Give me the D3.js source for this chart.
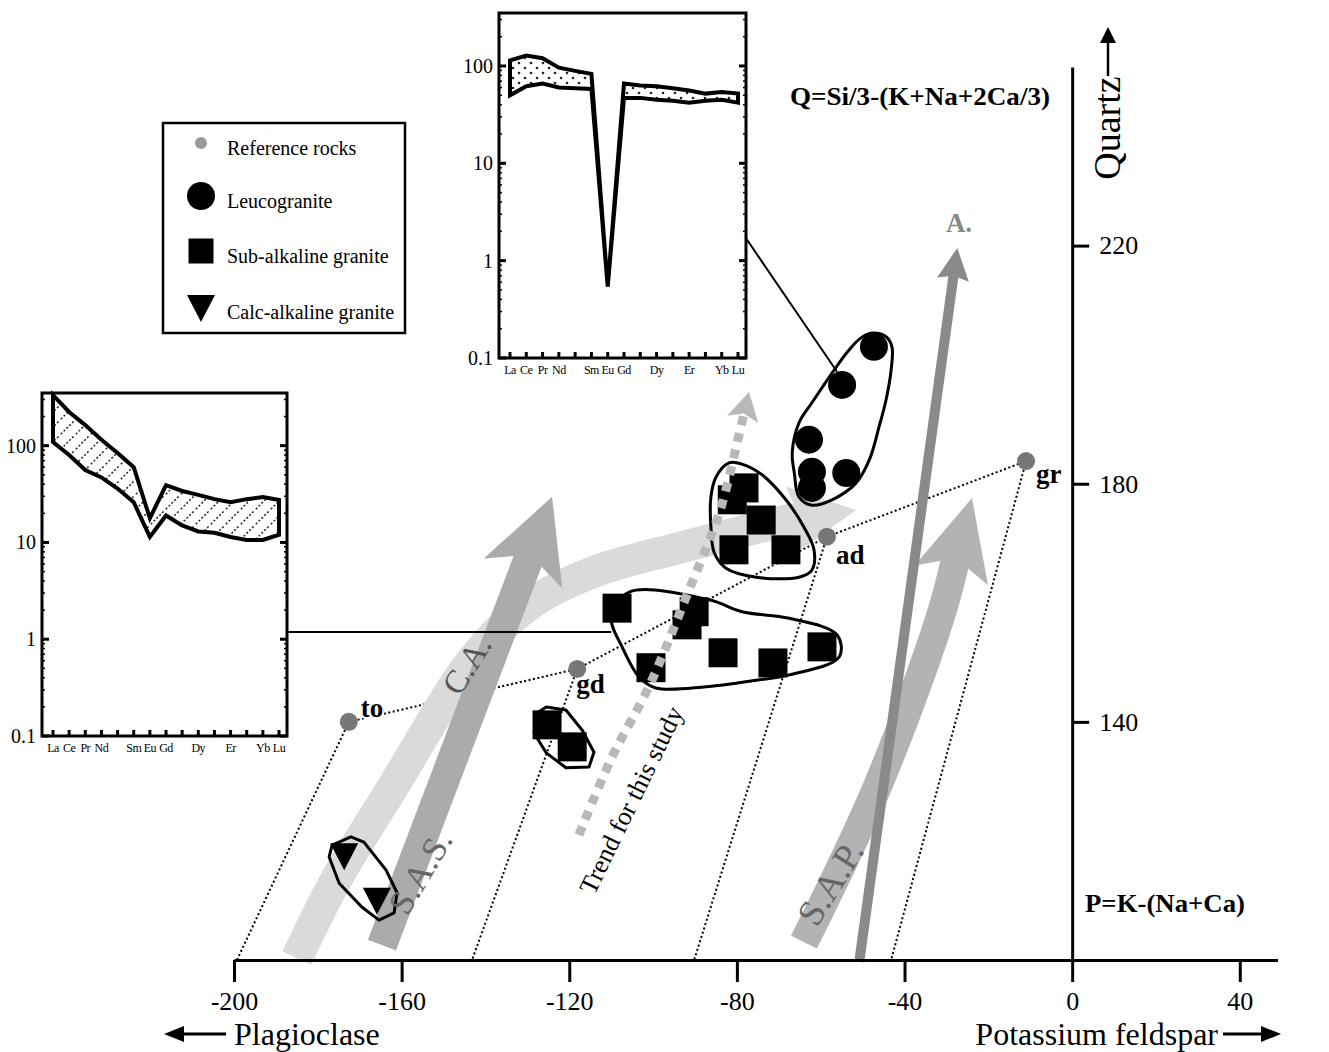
<!DOCTYPE html>
<html>
<head>
<meta charset="utf-8">
<script src="https://cdn.jsdelivr.net/npm/d3@7"></script>
<style>
	body { margin: 0; background: #fff; }
	svg { display: block; font-family: "Liberation Serif", "DejaVu Serif", serif; }
</style>
</head>
<body>
<script>
// Values; x = P = K-(Na+Ca), y = Q = Si/3-(K+Na+2Ca/3)
var xTicks = [-200, -160, -120, -80, -40, 0, 40];
var yTicks = [140, 180, 220];

var refNames = ["to", "gd", "ad", "gr"];
var refX = [-172.6, -118.1, -58.5, -11.0];
var refY = [140.0, 148.9, 171.1, 183.8];
// where the dotted tie lines meet the P axis
var refBaseX = [-199.3, -143.2, -90.2, -43.2];

var leucoX = [-47.3, -54.9, -62.8, -62.1, -53.9, -62.1];
var leucoY = [203.0, 196.6, 187.4, 182.0, 181.8, 179.3];

var subAlkX = [-78.3, -81.1, -74.2, -80.7, -68.3, -108.6, -90.2, -91.9, -83.3, -71.4, -59.7, -100.5, -125.3, -119.3];
var subAlkY = [179.3, 177.3, 173.9, 168.9, 168.9, 159.1, 158.5, 156.3, 151.6, 149.9, 152.6, 149.1, 139.5, 135.8];

var calcAlkX = [-173.7, -165.9];
var calcAlkY = [117.6, 110.1];

// fields drawn round each group
var leucoField = [[-47.7, 205.3], [-44.4, 204.7], [-43.0, 203.0], [-43.2, 199.1], [-44.4, 194.1], [-46.1, 189.5], [-48.4, 184.0], [-51.6, 180.1], [-57.3, 177.3], [-62.1, 176.4], [-65.2, 177.8], [-66.3, 181.8], [-66.8, 185.2], [-65.2, 190.2], [-62.1, 193.6], [-56.3, 199.6], [-53.2, 202.5], [-50.4, 204.5]];
var subAlkField1 = [[-81.9, 183.5], [-78.8, 183.3], [-74.0, 181.5], [-68.3, 177.3], [-64.0, 172.7], [-61.6, 168.9], [-62.1, 165.5], [-65.2, 164.3], [-75.4, 164.3], [-82.6, 165.8], [-85.4, 168.4], [-86.2, 172.7], [-86.2, 177.8], [-85.0, 181.1]];
var subAlkField2 = [[-105.7, 161.8], [-86.6, 160.5], [-78.8, 158.5], [-67.5, 157.4], [-56.1, 154.6], [-55.6, 150.9], [-67.5, 147.9], [-75.4, 147.0], [-87.4, 145.9], [-99.3, 145.7], [-103.3, 147.5], [-107.4, 152.6], [-110.0, 157.6]];
var subAlkField3 = [[-125.5, 142.5], [-120.8, 142.0], [-116.9, 138.6], [-114.1, 134.9], [-115.3, 132.4], [-120.8, 132.3], [-125.5, 134.8], [-128.4, 138.1], [-127.7, 141.5]];
var calcAlkField = [[-176.6, 119.3], [-172.1, 120.7], [-169.0, 119.8], [-163.7, 115.1], [-161.1, 111.3], [-161.8, 107.9], [-165.4, 106.7], [-169.5, 108.9], [-174.9, 112.9], [-177.3, 117.3]];

// trend arrows (last point = tip)
var caBand = [[-185.0, 100.3], [-175.7, 113.4], [-161.1, 130.2], [-151.1, 142.0], [-144.9, 148.7], [-136.8, 155.4], [-127.2, 160.8], [-112.9, 165.5], [-93.8, 169.2], [-67.5, 173.9], [-51.6, 175.6]];
var caArrow = [[-164.7, 102.5], [-124.1, 177.8]];
var sapArrow = [[-64.0, 103.0], [-46.5, 129.1], [-31.7, 157.1], [-23.9, 177.6]];
var aArrow = [[-50.8, 99.7], [-27.4, 219.6]];
var trendArrow = [[-117.7, 121.0], [-109.8, 134.1], [-101.0, 145.9], [-91.4, 162.2], [-84.2, 175.1], [-79.5, 188.2], [-77.1, 195.4]];

// REE insets (chondrite normalised)
var ree = ["La", "Ce", "Pr", "Nd", "Pm", "Sm", "Eu", "Gd", "Tb", "Dy", "Ho", "Er", "Tm", "Yb", "Lu"];
var reeLabels = ["La", "Ce", "Pr", "Nd", "", "Sm", "Eu", "Gd", "", "Dy", "", "Er", "", "Yb", "Lu"];
var reeTicks = [0.1, 1, 10, 100];
var subAlkReeHigh = [333, 223, 163, 115, 84, 60, 17.8, 39, 34, 31, 28, 26, 28, 29.5, 27.5];
var subAlkReeLow = [109, 80, 56, 47, 36, 26, 11.4, 19, 15, 13, 12.6, 11.4, 10.6, 10.6, 12];
var leucoReeHigh = [114, 128, 120, 96, 89, 83, 0.54, 66, 63, 62, 59, 56, 52, 54, 52];
var leucoReeLow = [50, 62, 66, 60, 59, 58, 0.54, 47, 47, 45, 44, 42, 44, 45, 42];

var width = 1329, height = 1052;

var svg = d3.select("body").append("svg")
		.attr("width", width)
		.attr("height", height);

var defs = svg.append("defs");
defs.append("pattern")
		.attr("id", "dots")
		.attr("patternUnits", "userSpaceOnUse")
		.attr("width", 12).attr("height", 10)
	.selectAll("circle")
	.data([[3, 3], [9, 8]])
	.enter().append("circle")
		.attr("cx", function(d) { return d[0]; })
		.attr("cy", function(d) { return d[1]; })
		.attr("r", 1.3)
		.attr("fill", "#222");
defs.append("pattern")
		.attr("id", "hatch")
		.attr("patternUnits", "userSpaceOnUse")
		.attr("width", 15).attr("height", 15)
	.append("path")
		.attr("d", "M-2,17L17,-2")
		.attr("stroke", "#222")
		.attr("stroke-width", 1.5)
		.attr("stroke-dasharray", "2,2");

var x = d3.scaleLinear().domain([-200, 49]).range([234, 1277.5]);
var y = d3.scaleLinear().domain([100, 250]).range([960, 67]);

var px = function(d) { return [x(d[0]), y(d[1])]; };

var plot = svg.append("g").attr("class", "plot");

// Dotted tie lines between the reference rocks and down to the P axis
var refPts = refX.map(function(d, i) { return [d, refY[i]]; });
plot.append("path")
		.attr("d", d3.line()(refPts.map(px)))
		.attr("fill", "none")
		.attr("stroke", "#000")
		.attr("stroke-width", 2)
		.attr("stroke-dasharray", "2,2.5");
plot.selectAll(".tie")
	.data(refPts)
	.enter().append("path")
		.attr("class", "tie")
		.attr("d", function(d, i) { return d3.line()([px(d), [x(refBaseX[i]), y(100)]]); })
		.attr("fill", "none")
		.attr("stroke", "#000")
		.attr("stroke-width", 2)
		.attr("stroke-dasharray", "2,2.5");

function drawArrow(points, w, color, head, dash) {
	var p = points.map(px);
	var tip = p[p.length - 1], prev = p[p.length - 2];
	var dx = tip[0] - prev[0], dy = tip[1] - prev[1], len = Math.sqrt(dx * dx + dy * dy);
	var ux = dx / len, uy = dy / len, nx = -uy, ny = ux;
	var neck = [tip[0] - ux * (head.len - head.notch), tip[1] - uy * (head.len - head.notch)];
	var base = [tip[0] - ux * head.len, tip[1] - uy * head.len];
	plot.append("path")
			.attr("d", d3.line().curve(d3.curveCatmullRom)(p.slice(0, -1).concat([neck])))
			.attr("fill", "none")
			.attr("stroke", color)
			.attr("stroke-width", w)
			.attr("stroke-dasharray", dash || null);
	plot.append("path")
			.attr("d", d3.line()([tip, [base[0] + nx * head.half, base[1] + ny * head.half], neck,
				[base[0] - nx * head.half, base[1] - ny * head.half]]) + "Z")
			.attr("fill", color);
}

drawArrow(caBand, 32, "#dadada", {len: 66, half: 34, notch: 10});
drawArrow(caArrow, 30, "#ababab", {len: 82, half: 42, notch: 20});
drawArrow(sapArrow, 29, "#b3b3b3", {len: 80, half: 38, notch: 18});
drawArrow(aArrow, 10, "#8a8a8a", {len: 32, half: 16, notch: 4});

// Links from the insets to their groups (inset scales defined below)
var leftBox = {left: 42, right: 287, top: 393, bottom: 736};
var topBox = {left: 499, right: 746, top: 13, bottom: 358};
var reeY = function(box) { return d3.scaleLog().domain([0.1, 350]).range([box.bottom, box.top]); };

plot.append("path")
		.attr("d", d3.line()([[leftBox.right, reeY(leftBox)(1.19)], px([-110.0, 155.1])]))
		.attr("stroke", "#000")
		.attr("stroke-width", 2);
plot.append("path")
		.attr("d", d3.line()([[topBox.right, reeY(topBox)(1.7)], px([-56.1, 198.8])]))
		.attr("stroke", "#000")
		.attr("stroke-width", 2);

// Samples
var square = d3.symbol().type(d3.symbolSquare).size(29 * 29)();
var downTriangle = "M-14,-12H14L0,15Z";

plot.selectAll(".leuco")
	.data(leucoX)
	.enter().append("circle")
		.attr("class", "leuco")
		.attr("cx", function(d) { return x(d); })
		.attr("cy", function(d, i) { return y(leucoY[i]); })
		.attr("r", 14)
		.attr("fill", "#000");

plot.selectAll(".subalk")
	.data(subAlkX)
	.enter().append("path")
		.attr("class", "subalk")
		.attr("d", square)
		.attr("transform", function(d, i) { return "translate(" + x(d) + "," + y(subAlkY[i]) + ")"; })
		.attr("fill", "#000");

plot.selectAll(".calcalk")
	.data(calcAlkX)
	.enter().append("path")
		.attr("class", "calcalk")
		.attr("d", downTriangle)
		.attr("transform", function(d, i) { return "translate(" + x(d) + "," + y(calcAlkY[i]) + ")"; })
		.attr("fill", "#000");

var smooth = d3.line().curve(d3.curveCatmullRomClosed.alpha(0.5));
var sharp = d3.line().curve(d3.curveLinearClosed);
[[leucoField, smooth], [subAlkField1, smooth], [subAlkField2, smooth], [subAlkField3, sharp], [calcAlkField, sharp]]
	.forEach(function(f) {
		plot.append("path")
				.attr("d", f[1](f[0].map(px)))
				.attr("fill", "none")
				.attr("stroke", "#000")
				.attr("stroke-width", 3)
				.attr("stroke-linejoin", "round");
	});

drawArrow(trendArrow, 9, "#b8b8b8", {len: 28, half: 16, notch: 6}, "9,8");

// Reference rocks
plot.selectAll(".ref")
	.data(refPts)
	.enter().append("circle")
		.attr("class", "ref")
		.attr("cx", function(d) { return x(d[0]); })
		.attr("cy", function(d) { return y(d[1]); })
		.attr("r", 9)
		.attr("fill", "#777");

var refOffset = {to: [12, -5], gd: [-1, 24], ad: [9, 27], gr: [10, 22]};
plot.selectAll(".ref-label")
	.data(refNames)
	.enter().append("text")
		.attr("class", "ref-label")
		.attr("x", function(d, i) { return x(refX[i]) + refOffset[d][0]; })
		.attr("y", function(d, i) { return y(refY[i]) + refOffset[d][1]; })
		.attr("font-size", 27)
		.attr("font-weight", "bold")
		.attr("stroke", "#fff")
		.attr("stroke-width", 4)
		.attr("paint-order", "stroke")
		.text(function(d) { return d; });

// Trend labels
var trendLabels = [
	{text: "C.A.", at: [-144.5, 149.6], angle: -58, color: "#555", size: 33},
	{text: "S.A.S.", at: [-155.6, 114.8], angle: -59, color: "#666", size: 35},
	{text: "S.A.P.", at: [-57.8, 113.0], angle: -58, color: "#666", size: 37},
	{text: "Trend for this study", at: [-105.3, 126.9], angle: -64, color: "#000", size: 26}
];
plot.selectAll(".trend-label")
	.data(trendLabels)
	.enter().append("text")
		.attr("class", "trend-label")
		.attr("transform", function(d) { return "translate(" + px(d.at) + ")rotate(" + d.angle + ")"; })
		.attr("text-anchor", "middle")
		.attr("dy", "0.35em")
		.attr("font-size", function(d) { return d.size; })
		.attr("fill", function(d) { return d.color; })
		.text(function(d) { return d.text; });

plot.append("text")
		.attr("x", x(-27.0))
		.attr("y", y(222.3))
		.attr("text-anchor", "middle")
		.attr("font-size", 27)
		.attr("font-weight", "bold")
		.attr("fill", "#888")
		.text("A.");

// Axes (plain hyphen for negatives, as in the figure)
var plain = function(d) { return String(d); };
var xAxis = svg.append("g")
		.attr("transform", "translate(0," + y(100) + ")")
		.call(d3.axisBottom(x).tickValues(xTicks).tickFormat(plain).tickSize(22).tickSizeOuter(0).tickPadding(10));
var yAxis = svg.append("g")
		.attr("transform", "translate(" + x(0) + ",0)")
		.call(d3.axisRight(y).tickValues(yTicks).tickFormat(plain).tickSize(17).tickSizeOuter(0).tickPadding(10));
[xAxis, yAxis].forEach(function(a) {
	a.attr("font-family", null).attr("font-size", 26);
	a.selectAll("path, line").attr("stroke", "#000").attr("stroke-width", 3);
	a.selectAll("text").attr("fill", "#000");
});

svg.append("text")
		.attr("x", 790).attr("y", 105)
		.attr("font-size", 26)
		.attr("font-weight", "bold")
		.attr("textLength", 260)
		.attr("lengthAdjust", "spacingAndGlyphs")
		.text("Q=Si/3-(K+Na+2Ca/3)");
svg.append("text")
		.attr("x", 1085).attr("y", 912)
		.attr("font-size", 26)
		.attr("font-weight", "bold")
		.attr("textLength", 160)
		.attr("lengthAdjust", "spacingAndGlyphs")
		.text("P=K-(Na+Ca)");

// Axis names with their arrows
svg.append("text")
		.attr("transform", "translate(1120,128)rotate(-90)")
		.attr("text-anchor", "middle")
		.attr("font-size", 38)
		.text("Quartz");
svg.append("path").attr("d", "M1108,76V40").attr("stroke", "#000").attr("stroke-width", 2.5);
svg.append("path").attr("d", "M1108,27L1116,43H1100Z").attr("fill", "#000");

svg.append("text")
		.attr("x", 234).attr("y", 1045)
		.attr("font-size", 32)
		.text("Plagioclase");
svg.append("path").attr("d", "M226,1034H180").attr("stroke", "#000").attr("stroke-width", 3);
svg.append("path").attr("d", "M164,1034L184,1026V1042Z").attr("fill", "#000");

svg.append("text")
		.attr("x", 1218).attr("y", 1045)
		.attr("text-anchor", "end")
		.attr("font-size", 32)
		.text("Potassium feldspar");
svg.append("path").attr("d", "M1223,1034H1264").attr("stroke", "#000").attr("stroke-width", 3);
svg.append("path").attr("d", "M1281,1034L1261,1026V1042Z").attr("fill", "#000");

// REE insets
function drawInset(box, high, low, fill) {
	var g = svg.append("g").attr("class", "inset");
	var rx = d3.scalePoint().domain(ree).range([box.left + 11, box.right - 8]);
	var ry = reeY(box);

	g.append("rect")
			.attr("x", box.left).attr("y", box.top)
			.attr("width", box.right - box.left)
			.attr("height", box.bottom - box.top)
			.attr("fill", "#fff");

	var band = ree.map(function(d, i) { return [rx(d), ry(high[i])]; })
		.concat(ree.map(function(d, i) { return [rx(d), ry(low[i])]; }).reverse());
	g.append("path")
			.attr("d", d3.line()(band) + "Z")
			.attr("fill", "url(#" + fill + ")")
			.attr("stroke", "#000")
			.attr("stroke-width", 4)
			.attr("stroke-linejoin", "miter");

	// ticks on all but the top edge
	g.selectAll(".xt")
		.data(ree)
		.enter().append("line")
			.attr("x1", function(d) { return rx(d); })
			.attr("x2", function(d) { return rx(d); })
			.attr("y1", box.bottom)
			.attr("y2", box.bottom - 6)
			.attr("stroke", "#000")
			.attr("stroke-width", 3);
	var minor = [];
	[0.1, 1, 10, 100].forEach(function(dec) {
		for (var k = 1; k < 10; k++) if (dec * k <= 350) minor.push(dec * k);
	});
	[box.left, box.right].forEach(function(edge, side) {
		var dir = side ? -1 : 1;
		g.selectAll(".yt" + side)
			.data(minor)
			.enter().append("line")
				.attr("x1", edge)
				.attr("x2", function(d) { return edge + dir * (reeTicks.indexOf(d) >= 0 ? 7 : 3); })
				.attr("y1", function(d) { return ry(d); })
				.attr("y2", function(d) { return ry(d); })
				.attr("stroke", "#000")
				.attr("stroke-width", function(d) { return reeTicks.indexOf(d) >= 0 ? 3 : 1.5; });
	});

	g.append("rect")
			.attr("x", box.left).attr("y", box.top)
			.attr("width", box.right - box.left)
			.attr("height", box.bottom - box.top)
			.attr("fill", "none")
			.attr("stroke", "#000")
			.attr("stroke-width", 3);

	g.selectAll(".yl")
		.data(reeTicks)
		.enter().append("text")
			.attr("x", box.left - 6)
			.attr("y", function(d) { return ry(d); })
			.attr("dy", "0.35em")
			.attr("text-anchor", "end")
			.attr("font-size", 20)
			.text(function(d) { return d; });

	g.selectAll(".xl")
		.data(ree)
		.enter().append("text")
			.attr("x", function(d) { return rx(d); })
			.attr("y", box.bottom + 16)
			.attr("text-anchor", "middle")
			.attr("font-size", 12)
			.attr("letter-spacing", -0.5)
			.text(function(d, i) { return reeLabels[i]; });
}

drawInset(leftBox, subAlkReeHigh, subAlkReeLow, "hatch");
drawInset(topBox, leucoReeHigh, leucoReeLow, "dots");

// Legend
var legendItems = ["Reference rocks", "Leucogranite", "Sub-alkaline granite", "Calc-alkaline granite"];
var legend = svg.append("g").attr("transform", "translate(163,123)");
legend.append("rect")
		.attr("width", 242).attr("height", 210)
		.attr("fill", "#fff")
		.attr("stroke", "#000")
		.attr("stroke-width", 2.5);
var rowY = [20, 73, 128, 184];
legend.append("circle").attr("cx", 38).attr("cy", rowY[0]).attr("r", 6).attr("fill", "#999");
legend.append("circle").attr("cx", 38).attr("cy", rowY[1]).attr("r", 14).attr("fill", "#000");
legend.append("path").attr("d", d3.symbol().type(d3.symbolSquare).size(25 * 25)())
		.attr("transform", "translate(38," + rowY[2] + ")").attr("fill", "#000");
legend.append("path").attr("d", downTriangle)
		.attr("transform", "translate(38," + rowY[3] + ")").attr("fill", "#000");
legend.selectAll(".item")
	.data(legendItems)
	.enter().append("text")
		.attr("class", "item")
		.attr("x", 64)
		.attr("y", function(d, i) { return rowY[i] + 12; })
		.attr("font-size", 20)
		.text(function(d) { return d; });
</script>
</body>
</html>
